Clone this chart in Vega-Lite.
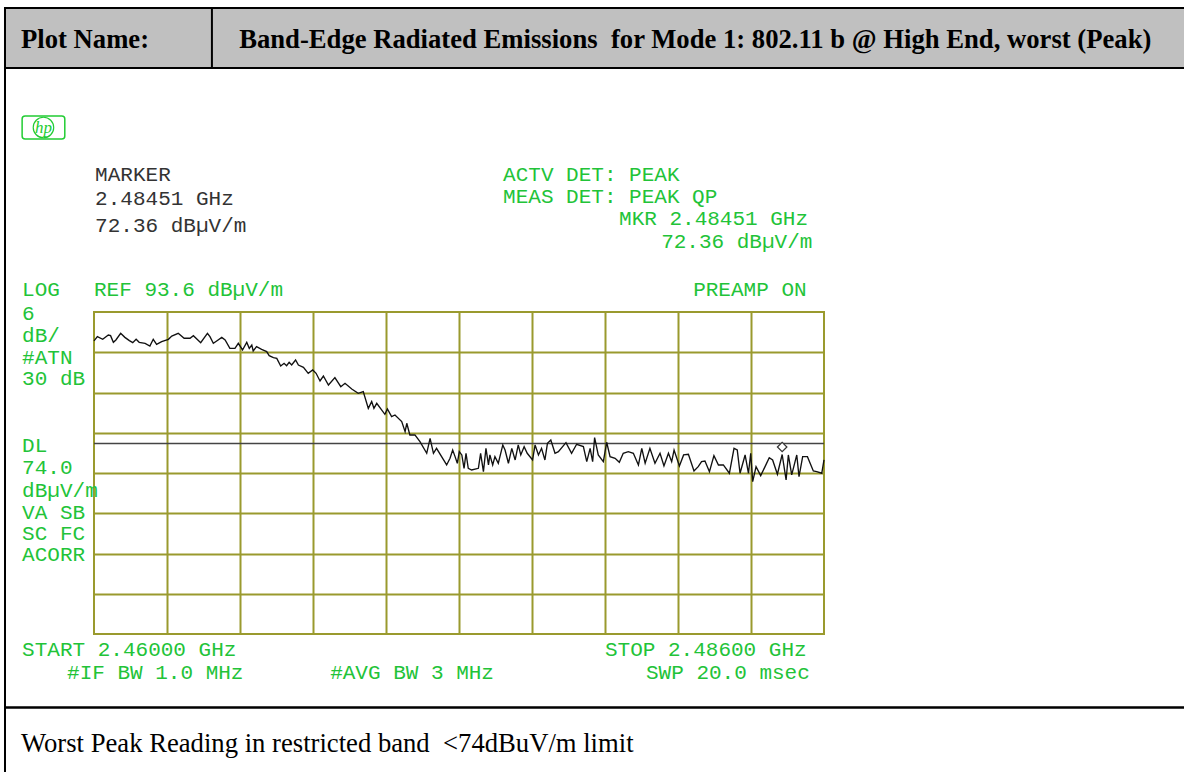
{"$schema":"https://vega.github.io/schema/vega-lite/v6.json","width":730,"height":322,"padding":{"left":94,"top":312,"right":360,"bottom":138},"autosize":{"type":"none"},"background":"white","view":{"stroke":"#9a9a2e","strokeWidth":2},"datasets":{"trace":[{"f":2460,"d":89.3},{"f":2460.12,"d":89.92},{"f":2460.31,"d":89.53},{"f":2460.51,"d":90.17},{"f":2460.59,"d":90.07},{"f":2460.69,"d":89.08},{"f":2460.78,"d":89.43},{"f":2460.95,"d":90.42},{"f":2461.1,"d":89.82},{"f":2461.26,"d":89.33},{"f":2461.38,"d":89.03},{"f":2461.5,"d":89.53},{"f":2461.61,"d":89.08},{"f":2461.82,"d":88.93},{"f":2461.99,"d":88.53},{"f":2462.11,"d":89.53},{"f":2462.23,"d":88.78},{"f":2462.41,"d":89.18},{"f":2462.65,"d":89.53},{"f":2462.77,"d":90.02},{"f":2463,"d":90.42},{"f":2463.21,"d":89.68},{"f":2463.42,"d":89.68},{"f":2463.54,"d":90.07},{"f":2463.8,"d":89.03},{"f":2464.04,"d":90.42},{"f":2464.13,"d":89.92},{"f":2464.25,"d":88.93},{"f":2464.37,"d":89.28},{"f":2464.55,"d":89.82},{"f":2464.67,"d":89.43},{"f":2464.84,"d":88.18},{"f":2465.02,"d":88.18},{"f":2465.14,"d":88.93},{"f":2465.29,"d":87.94},{"f":2465.44,"d":89.08},{"f":2465.53,"d":88.18},{"f":2465.62,"d":88.68},{"f":2465.67,"d":87.79},{"f":2465.79,"d":88.43},{"f":2465.97,"d":88.04},{"f":2466.15,"d":87.69},{"f":2466.24,"d":87.09},{"f":2466.39,"d":86.79},{"f":2466.51,"d":86.69},{"f":2466.65,"d":85.55},{"f":2466.77,"d":85.95},{"f":2466.86,"d":85.6},{"f":2466.95,"d":86.1},{"f":2467.04,"d":85.7},{"f":2467.18,"d":86.45},{"f":2467.28,"d":85.7},{"f":2467.46,"d":85.35},{"f":2467.63,"d":84.46},{"f":2467.79,"d":84.96},{"f":2467.91,"d":84.46},{"f":2468.05,"d":83.32},{"f":2468.17,"d":84.06},{"f":2468.35,"d":82.72},{"f":2468.58,"d":83.81},{"f":2468.79,"d":82.47},{"f":2468.94,"d":82.97},{"f":2469.18,"d":82.12},{"f":2469.41,"d":81.48},{"f":2469.59,"d":81.73},{"f":2469.77,"d":79.24},{"f":2469.89,"d":80.24},{"f":2469.97,"d":79.24},{"f":2470.07,"d":79.99},{"f":2470.36,"d":78.35},{"f":2470.45,"d":79.14},{"f":2470.6,"d":78},{"f":2470.72,"d":78.25},{"f":2470.96,"d":77.26},{"f":2471.08,"d":75.76},{"f":2471.14,"d":77.01},{"f":2471.25,"d":75.27},{"f":2471.43,"d":75.27},{"f":2471.61,"d":74.27},{"f":2471.85,"d":72.54},{"f":2471.97,"d":74.77},{"f":2472.09,"d":72.54},{"f":2472.2,"d":73.28},{"f":2472.56,"d":70.8},{"f":2472.68,"d":71.79},{"f":2472.775,"d":73.03},{"f":2472.86,"d":72.04},{"f":2472.94,"d":71.05},{"f":2473.01,"d":72.78},{"f":2473.1,"d":72.29},{"f":2473.18,"d":70.3},{"f":2473.25,"d":72.54},{"f":2473.33,"d":70.3},{"f":2473.45,"d":70.05},{"f":2473.69,"d":70.3},{"f":2473.77,"d":72.54},{"f":2473.87,"d":69.8},{"f":2473.96,"d":73.28},{"f":2474.05,"d":70.8},{"f":2474.1,"d":72.29},{"f":2474.2,"d":70.8},{"f":2474.28,"d":72.04},{"f":2474.4,"d":71.05},{"f":2474.56,"d":73.78},{"f":2474.64,"d":73.03},{"f":2474.76,"d":71.05},{"f":2474.88,"d":73.28},{"f":2475,"d":71.54},{"f":2475.11,"d":73.78},{"f":2475.2,"d":72.29},{"f":2475.32,"d":73.53},{"f":2475.43,"d":72.54},{"f":2475.62,"d":71.54},{"f":2475.71,"d":73.78},{"f":2475.83,"d":72.29},{"f":2475.94,"d":73.28},{"f":2476.06,"d":71.54},{"f":2476.15,"d":74.03},{"f":2476.27,"d":74.52},{"f":2476.42,"d":72.54},{"f":2476.54,"d":72.78},{"f":2476.81,"d":74.13},{"f":2477.01,"d":72.54},{"f":2477.19,"d":73.88},{"f":2477.43,"d":73.53},{"f":2477.55,"d":71.29},{"f":2477.67,"d":73.28},{"f":2477.76,"d":71.29},{"f":2477.83,"d":74.87},{"f":2477.96,"d":72.29},{"f":2478.14,"d":71.29},{"f":2478.26,"d":74.18},{"f":2478.38,"d":72.04},{"f":2478.56,"d":71.79},{"f":2478.71,"d":71.2},{"f":2478.85,"d":72.54},{"f":2479.03,"d":72.78},{"f":2479.21,"d":72.54},{"f":2479.39,"d":70.8},{"f":2479.51,"d":73.28},{"f":2479.63,"d":71.05},{"f":2479.8,"d":73.28},{"f":2479.98,"d":71.05},{"f":2480.16,"d":72.54},{"f":2480.3,"d":70.65},{"f":2480.46,"d":72.54},{"f":2480.575,"d":71.29},{"f":2480.66,"d":73.03},{"f":2480.85,"d":70.65},{"f":2481,"d":72.29},{"f":2481.17,"d":72.39},{"f":2481.37,"d":69.9},{"f":2481.52,"d":70.55},{"f":2481.64,"d":71.29},{"f":2481.76,"d":71.39},{"f":2481.92,"d":69.8},{"f":2482.08,"d":72.19},{"f":2482.24,"d":70.8},{"f":2482.415,"d":70.8},{"f":2482.63,"d":69.56},{"f":2482.795,"d":73.28},{"f":2482.91,"d":73.03},{"f":2483.01,"d":69.56},{"f":2483.19,"d":72.29},{"f":2483.31,"d":69.56},{"f":2483.39,"d":72.54},{"f":2483.46,"d":68.31},{"f":2483.58,"d":70.55},{"f":2483.745,"d":69.21},{"f":2483.9,"d":70.55},{"f":2484.05,"d":71.89},{"f":2484.17,"d":71.54},{"f":2484.34,"d":69.41},{"f":2484.51,"d":72.36},{"f":2484.65,"d":68.56},{"f":2484.73,"d":72.29},{"f":2484.85,"d":69.31},{"f":2485.03,"d":72.29},{"f":2485.11,"d":69.06},{"f":2485.24,"d":72.04},{"f":2485.41,"d":72.04},{"f":2485.62,"d":69.9},{"f":2485.74,"d":69.8},{"f":2485.92,"d":69.56},{"f":2486,"d":71.54}],"text":[{"f":2460.04,"d":114.17,"t":"MARKER","k":"black"},{"f":2460.04,"d":110.59,"t":"2.48451 GHz","k":"black"},{"f":2460.04,"d":106.57,"t":"72.36 dBµV/m","k":"black"},{"f":2474.57,"d":114.17,"t":"ACTV DET: PEAK","k":"green"},{"f":2474.57,"d":110.89,"t":"MEAS DET: PEAK QP","k":"green"},{"f":2478.7,"d":107.61,"t":"MKR 2.48451 GHz","k":"green"},{"f":2480.2,"d":104.18,"t":"72.36 dBµV/m","k":"green"},{"f":2457.44,"d":97.03,"t":"LOG","k":"green"},{"f":2460,"d":97.03,"t":"REF 93.6 dBµV/m","k":"green"},{"f":2481.34,"d":97.03,"t":"PREAMP ON","k":"green"},{"f":2457.44,"d":93.5,"t":"6","k":"green"},{"f":2457.44,"d":90.17,"t":"dB/","k":"green"},{"f":2457.44,"d":86.94,"t":"#ATN","k":"green"},{"f":2457.44,"d":83.76,"t":"30 dB","k":"green"},{"f":2457.44,"d":73.78,"t":"DL","k":"green"},{"f":2457.44,"d":70.5,"t":"74.0","k":"green"},{"f":2457.44,"d":67.07,"t":"dBµV/m","k":"green"},{"f":2457.44,"d":63.85,"t":"VA SB","k":"green"},{"f":2457.44,"d":60.66,"t":"SC FC","k":"green"},{"f":2457.44,"d":57.53,"t":"ACORR","k":"green"},{"f":2457.44,"d":43.38,"t":"START 2.46000 GHz","k":"green"},{"f":2478.2,"d":43.38,"t":"STOP 2.48600 GHz","k":"green"},{"f":2459.04,"d":39.95,"t":"#IF BW 1.0 MHz","k":"green"},{"f":2468.41,"d":39.95,"t":"#AVG BW 3 MHz","k":"green"},{"f":2479.66,"d":39.95,"t":"SWP 20.0 msec","k":"green"}],"frame":[{"f1":2456.83,"f2":2499.04,"d1":129.96,"d2":34.63,"p":"body"},{"f1":2456.83,"f2":2499.04,"d1":138.91,"d2":129.96,"p":"header"},{"f1":2456.83,"f2":2464.2,"d1":138.91,"d2":129.96,"p":"header"},{"f1":2456.83,"f2":2499.04,"d1":34.63,"d2":23.85,"p":"body"}],"heads":[{"f":2457.4,"d":134.14,"t":"Plot Name:"},{"f":2465.17,"d":134.14,"t":"Band-Edge Radiated Emissions\u00a0 for Mode 1: 802.11 b @ High End, worst (Peak)"}],"foot":[{"f":2457.4,"d":29.27,"t":"Worst Peak Reading in restricted band\u00a0 <74dBuV/m limit"}],"logo":[{"f1":2457.44,"f2":2458.96,"d1":122.81,"d2":119.38,"f":2458.2,"d":121.1,"t":"hp"}],"limit":[{"d":74}],"marker":[{"f":2484.51,"d":73.48}]},"layer":[{"data":{"name":"frame"},"mark":{"type":"rect","stroke":"black","strokeWidth":2},"encoding":{"x":{"field":"f1","type":"quantitative","scale":{"domain":[2460,2486],"nice":false,"zero":false},"axis":{"values":[2462.6,2465.2,2467.8,2470.4,2473,2475.6,2478.2,2480.8,2483.4],"grid":true,"gridColor":"#9a9a2e","gridWidth":2,"gridOpacity":1,"labels":false,"ticks":false,"domain":false,"title":null}},"x2":{"field":"f2"},"y":{"field":"d1","type":"quantitative","scale":{"domain":[45.6,93.6],"nice":false,"zero":false},"axis":{"values":[51.6,57.6,63.6,69.6,75.6,81.6,87.6],"grid":true,"gridColor":"#9a9a2e","gridWidth":2,"gridOpacity":1,"labels":false,"ticks":false,"domain":false,"title":null}},"y2":{"field":"d2"},"fill":{"field":"p","type":"nominal","scale":{"domain":["body","header"],"range":["#ffffff00","#c0c0c0"]},"legend":null}}},{"data":{"name":"logo"},"mark":{"type":"rect","fillOpacity":0,"stroke":"#22cc33","strokeWidth":1.5,"cornerRadius":3},"encoding":{"x":{"field":"f1","type":"quantitative"},"x2":{"field":"f2"},"y":{"field":"d1","type":"quantitative"},"y2":{"field":"d2"}}},{"data":{"name":"logo"},"mark":{"type":"point","shape":"circle","size":420,"stroke":"#22cc33","strokeWidth":1.2,"fillOpacity":0},"encoding":{"x":{"field":"f","type":"quantitative"},"y":{"field":"d","type":"quantitative"}}},{"data":{"name":"logo"},"mark":{"type":"text","font":"Liberation Serif","fontStyle":"italic","fontSize":17,"color":"#22cc33"},"encoding":{"x":{"field":"f","type":"quantitative"},"y":{"field":"d","type":"quantitative"},"text":{"field":"t"}}},{"data":{"name":"limit"},"mark":{"type":"rule","color":"#444444","strokeWidth":1.6},"encoding":{"y":{"field":"d","type":"quantitative"}}},{"data":{"name":"trace"},"mark":{"type":"line","color":"#111111","strokeWidth":1.35,"clip":false},"encoding":{"x":{"field":"f","type":"quantitative"},"y":{"field":"d","type":"quantitative"}}},{"data":{"name":"marker"},"mark":{"type":"point","shape":"diamond","size":90,"stroke":"#333333","strokeWidth":1.2,"fill":"white","fillOpacity":1},"encoding":{"x":{"field":"f","type":"quantitative"},"y":{"field":"d","type":"quantitative"}}},{"data":{"name":"text"},"mark":{"type":"text","font":"Liberation Mono","fontSize":21,"align":"left","baseline":"middle","dy":1},"encoding":{"x":{"field":"f","type":"quantitative"},"y":{"field":"d","type":"quantitative"},"text":{"field":"t"},"color":{"field":"k","type":"nominal","scale":{"domain":["black","green"],"range":["#333333","#22c338"]},"legend":null}}},{"data":{"name":"heads"},"mark":{"type":"text","font":"Liberation Serif","fontWeight":"bold","fontSize":26.67,"align":"left","baseline":"middle","color":"black"},"encoding":{"x":{"field":"f","type":"quantitative"},"y":{"field":"d","type":"quantitative"},"text":{"field":"t"}}},{"data":{"name":"foot"},"mark":{"type":"text","font":"Liberation Serif","fontSize":26.67,"align":"left","baseline":"middle","color":"black"},"encoding":{"x":{"field":"f","type":"quantitative"},"y":{"field":"d","type":"quantitative"},"text":{"field":"t"}}}]}
